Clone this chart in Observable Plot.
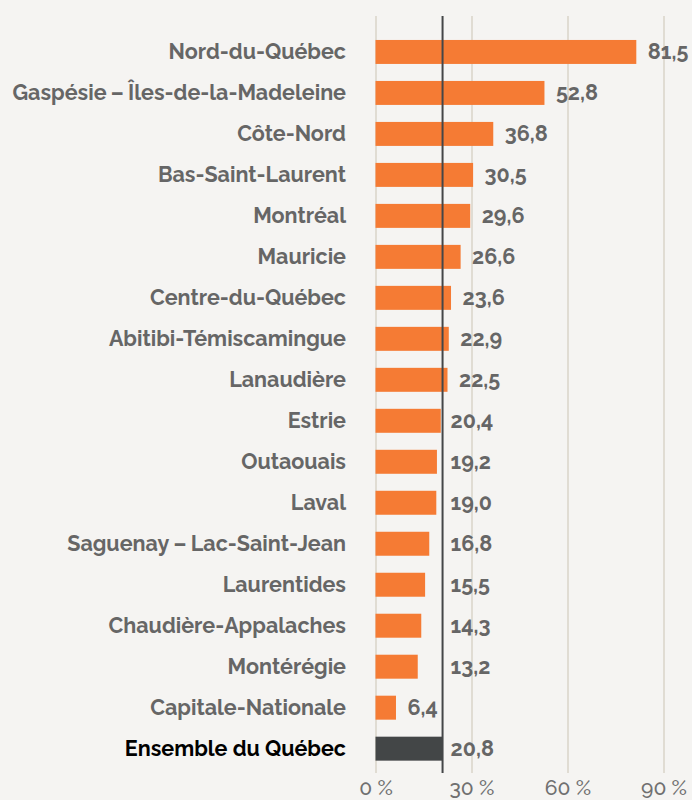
<!DOCTYPE html>
<html>
<head>
<meta charset="utf-8">
<script src="https://cdn.jsdelivr.net/npm/d3@7"></script>
<script src="https://cdn.jsdelivr.net/npm/@observablehq/plot@0.6"></script>
<style>
  html, body { margin: 0; padding: 0; background: #f5f4f2; }
  #chart { width: 692px; height: 800px; }
</style>
</head>
<body>
<div id="chart"></div>
<script>
const regions = [
  "Nord-du-Québec",
  "Gaspésie\u2009–\u2009Îles-de-la-Madeleine",
  "Côte-Nord",
  "Bas-Saint-Laurent",
  "Montréal",
  "Mauricie",
  "Centre-du-Québec",
  "Abitibi-Témiscamingue",
  "Lanaudière",
  "Estrie",
  "Outaouais",
  "Laval",
  "Saguenay\u2009–\u2009Lac-Saint-Jean",
  "Laurentides",
  "Chaudière-Appalaches",
  "Montérégie",
  "Capitale-Nationale",
  "Ensemble du Québec"
];
const values = [81.5, 52.8, 36.8, 30.5, 29.6, 26.6, 23.6, 22.9, 22.5, 20.4, 19.2, 19.0, 16.8, 15.5, 14.3, 13.2, 6.4, 20.8];
const xTicks = [0, 30, 60, 90];
const totalLabel = "Ensemble du Québec";

const data = regions.map((r, i) => ({region: r, value: values[i], total: r === totalLabel}));
const totalValue = values[regions.indexOf(totalLabel)];
const fmt = v => v.toFixed(1).replace(".", ",");
const font = "Raleway, Lato, sans-serif";

// Labels that would collide with the reference line are pushed to its right
const labelRoom = 12.8; // label length in x units
const collides = d => d.value < totalValue && d.value + labelRoom > totalValue;
const normalLabels = data.filter(d => !collides(d) && !d.total);
const shiftedLabels = data.filter(d => collides(d) || d.total);

const labelStyle = {y: "region", text: d => fmt(d.value), textAnchor: "start",
  fill: "#666666", fontSize: 21.5, fontWeight: 700};

const chart = Plot.plot({
  width: 692,
  height: 800,
  marginLeft: 375.5,
  marginRight: 28.5,
  marginTop: 16,
  marginBottom: 27,
  style: {background: "#f5f4f2", fontFamily: font},
  x: {domain: [0, 90], ticks: xTicks, label: null},
  y: {domain: regions, paddingInner: 0.415, paddingOuter: 0.443, align: 0.66, round: false, label: null, axis: null},
  marks: [
    Plot.gridX(xTicks, {stroke: "#e0dcd3", strokeOpacity: 1, strokeWidth: 2}),
    Plot.barX(data, {x: "value", y: "region", fill: d => d.total ? "#434647" : "#f57b34"}),
    Plot.ruleX([totalValue], {stroke: "#444648", strokeWidth: 2}),
    Plot.text(normalLabels, {...labelStyle, x: "value", dx: 11}),
    Plot.text(shiftedLabels, {...labelStyle, x: d => Math.max(d.value, totalValue), dx: 8}),
    Plot.text(data, {x: () => 0, y: "region", text: "region", textAnchor: "end", dx: -30,
      fill: d => d.total ? "#000000" : "#666666", fontSize: 21.5, fontWeight: 700}),
    Plot.axisX({ticks: xTicks, tickSize: 0, tickPadding: 7, tickFormat: d => d + "\u00a0%",
      fill: "#707070", fontSize: 21, fontWeight: 500, label: null}),
  ]
});
document.getElementById("chart").appendChild(chart);
</script>
</body>
</html>
